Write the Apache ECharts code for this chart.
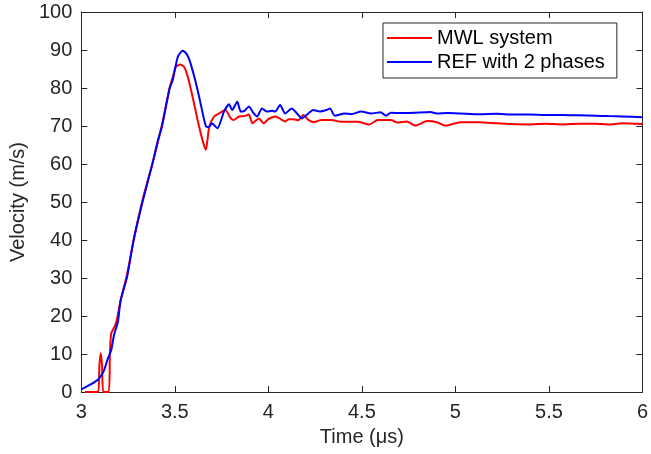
<!DOCTYPE html>
<html>
<head>
<meta charset="utf-8">
<script src="https://cdn.jsdelivr.net/npm/echarts@6/dist/echarts.min.js"></script>
<style>html,body{margin:0;padding:0;background:#fff}#c{width:651px;height:454px}</style>
</head>
<body>
<div id="c"></div>
<script>
const seriesNames = ['MWL system', 'REF with 2 phases'];
const xTicks = [3, 3.5, 4, 4.5, 5, 5.5, 6];
const yTicks = [0, 10, 20, 30, 40, 50, 60, 70, 80, 90, 100];
const xTitle = 'Time (μs)';
const yTitle = 'Velocity (m/s)';

const redT = [3.02,3.09,3.097,3.104,3.111,3.118,3.147,3.153,3.16,3.178,3.19,3.21,3.245,3.28,3.33,3.38,3.43,3.472,3.49,3.505,3.53,3.55,3.569,3.595,3.622,3.648,3.666,3.684,3.71,3.737,3.77,3.80,3.816,3.843,3.87,3.896,3.915,3.935,3.95,3.975,4.0,4.037,4.063,4.09,4.11,4.134,4.16,4.187,4.214,4.24,4.284,4.337,4.39,4.478,4.54,4.585,4.655,4.69,4.74,4.787,4.85,4.90,4.947,5.026,5.13,5.22,5.30,5.397,5.48,5.574,5.66,5.75,5.82,5.89,6.0];
const redV = [0,0,7,10.2,7,0,0,10,15.4,17.2,19,24,31,40,51,60,70,80,83,85.5,86.2,85.5,83,77.7,71.6,66.3,63.7,69.8,72.5,73.3,74.2,72.0,71.6,72.5,72.6,73.0,70.7,71.5,72.0,70.7,71.8,72.5,71.9,71.2,71.8,71.8,71.5,72.9,71.6,71.0,71.6,71.6,71.1,71.1,70.4,71.6,71.6,70.9,71.2,70.1,71.3,71.0,70.1,71.0,71.0,70.7,70.5,70.4,70.6,70.4,70.6,70.6,70.4,70.7,70.5];

const blueT = [3.00,3.05,3.09,3.12,3.143,3.16,3.175,3.196,3.21,3.245,3.28,3.33,3.38,3.41,3.431,3.472,3.489,3.516,3.542,3.56,3.578,3.604,3.63,3.657,3.668,3.682,3.698,3.728,3.763,3.79,3.807,3.834,3.852,3.872,3.896,3.922,3.94,3.966,3.993,4.02,4.037,4.063,4.09,4.125,4.16,4.178,4.214,4.24,4.275,4.31,4.33,4.355,4.408,4.443,4.496,4.549,4.60,4.629,4.655,4.72,4.779,4.867,4.90,4.96,5.026,5.13,5.22,5.309,5.397,5.48,5.574,5.66,5.75,5.82,5.892,6.0];
const blueV = [0.7,2.0,3.3,5.5,8.9,11,15,18.5,24,30.3,40,50.5,60,66.3,69.8,79.8,82.1,88.2,89.8,89.2,87.4,83,77.7,71.6,69.8,69.7,70.7,69.4,73.8,75.7,74.2,76.4,73.8,74.0,75.1,73.3,72.5,74.6,73.8,74.0,73.8,75.5,73.3,74.6,72.9,72.0,73.3,74.2,73.8,74.2,74.6,72.7,73.3,73.1,73.8,73.3,73.6,72.7,73.5,73.4,73.5,73.7,73.3,73.4,73.3,73.1,73.2,73.0,73.0,72.9,72.9,72.8,72.7,72.6,72.5,72.3];

const zip = (a, b) => a.map((t, i) => [t, b[i]]);
const FONT = '"Liberation Sans", Arial, sans-serif';
const TXT = '#262626';
const FS = 20;

const chart = echarts.init(document.getElementById('c'), null, {renderer: 'canvas'});
const baseX = {
  type: 'value', min: xTicks[0], max: xTicks[xTicks.length - 1], interval: 0.5,
  axisLine: {show: true, onZero: false, lineStyle: {color: TXT, width: 1}},
  axisTick: {show: true, inside: true, length: 6, lineStyle: {color: TXT}},
  splitLine: {show: false}
};
const baseY = {
  type: 'value', min: yTicks[0], max: yTicks[yTicks.length - 1], interval: 10,
  axisLine: {show: true, onZero: false, lineStyle: {color: TXT, width: 1}},
  axisTick: {show: true, inside: true, length: 6, lineStyle: {color: TXT}},
  splitLine: {show: false}
};
chart.setOption({
  animation: false,
  backgroundColor: '#fff',
  grid: {left: 81, right: 4, top: 12, bottom: 62},
  xAxis: [
    Object.assign({}, baseX, {position: 'bottom', name: xTitle, nameLocation: 'middle', nameGap: 35,
      nameTextStyle: {color: TXT, fontSize: FS, fontFamily: FONT},
      axisLabel: {color: TXT, fontSize: FS, fontFamily: FONT, margin: 10,
        formatter: v => String(v)}}),
    Object.assign({}, baseX, {position: 'top', axisLabel: {show: false}})
  ],
  yAxis: [
    Object.assign({}, baseY, {position: 'left', name: yTitle, nameLocation: 'middle', nameGap: 51,
      nameTextStyle: {color: TXT, fontSize: FS, fontFamily: FONT},
      axisLabel: {color: TXT, fontSize: FS, fontFamily: FONT, margin: 9}}),
    Object.assign({}, baseY, {position: 'right', axisLabel: {show: false}})
  ],
  legend: {
    left: 383, top: 23, orient: 'vertical',
    backgroundColor: '#fff', borderColor: TXT, borderWidth: 1,
    padding: [4, 12, 5, 4], itemGap: 2, itemWidth: 45, itemHeight: 2,
    icon: 'rect',
    textStyle: {color: '#000', fontSize: FS, fontFamily: FONT, lineHeight: 22},
    data: seriesNames
  },
  series: [
    {name: seriesNames[0], type: 'line', showSymbol: false, symbol: 'none', smooth: 0.2,
      lineStyle: {color: '#ff0000', width: 2}, itemStyle: {color: '#ff0000'},
      data: zip(redT, redV), z: 3},
    {name: seriesNames[1], type: 'line', showSymbol: false, symbol: 'none', smooth: 0.2,
      lineStyle: {color: '#0000ff', width: 2}, itemStyle: {color: '#0000ff'},
      data: zip(blueT, blueV), z: 4}
  ]
});
</script>
</body>
</html>
